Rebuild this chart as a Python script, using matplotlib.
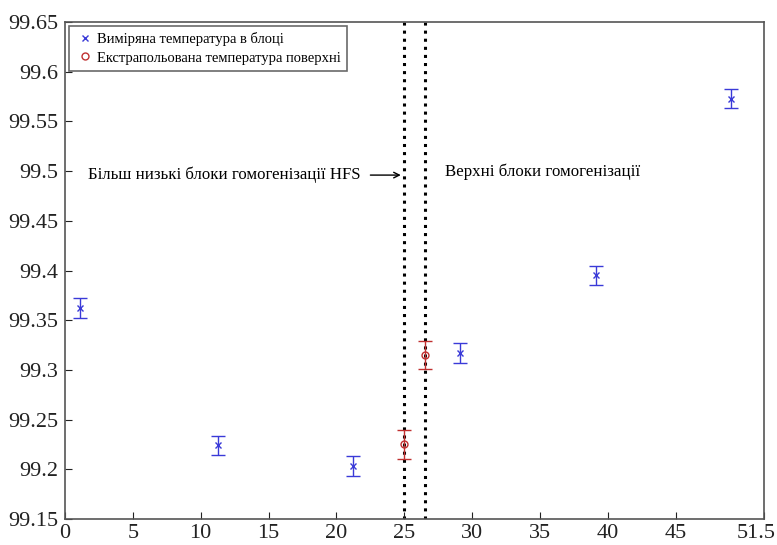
import matplotlib
matplotlib.use("Agg")
import matplotlib.pyplot as plt
from matplotlib.lines import Line2D
from matplotlib.transforms import ScaledTranslation

# Data
meas_x = [1.1, 11.3, 21.2, 29.1, 39.1, 49.1]
meas_y = [99.362, 99.224, 99.203, 99.317, 99.395, 99.573]
meas_err = [0.010, 0.010, 0.010, 0.010, 0.010, 0.010]

extr_x = [25.0, 26.5]
extr_y = [99.225, 99.315]
extr_err = [0.015, 0.014]

boundaries = [25.0, 26.5]
xticks = [0, 5, 10, 15, 20, 25, 30, 35, 40, 45, 51.5]
xtick_labels = ["0", "5", "10", "15", "20", "25", "30", "35", "40", "45", "51.5"]
yticks = [99.15, 99.2, 99.25, 99.3, 99.35, 99.4, 99.45, 99.5, 99.55, 99.6, 99.65]
ytick_labels = ["99.15", "99.2", "99.25", "99.3", "99.35", "99.4", "99.45", "99.5", "99.55", "99.6", "99.65"]

legend_labels = ["Виміряна температура в блоці", "Екстрапольована температура поверхні"]
text_lower = "Більш низькі блоки гомогенізації HFS"
text_upper = "Верхні блоки гомогенізації"

plt.rcParams['font.family'] = ['Liberation Serif', 'DejaVu Serif']

fig = plt.figure(figsize=(7.77, 5.45), dpi=100)
ax = fig.add_axes([0.0837, 0.0477, 0.8993, 0.9119])

blue = '#3a3ad8'
red = '#c03030'

for b in boundaries:
    ax.axvline(b, color='black', linestyle=':', linewidth=2.2, zorder=1)

ax.errorbar(meas_x, meas_y, yerr=meas_err, fmt='x', color=blue, ecolor=blue,
            markersize=4, capsize=5, elinewidth=1, capthick=1, zorder=3)
ax.errorbar(extr_x, extr_y, yerr=extr_err, fmt='o', color=red, ecolor=red,
            markerfacecolor='none', markersize=5, capsize=5, elinewidth=1, capthick=1,
            zorder=3)

ax.set_xlim(0, 51.5)
ax.set_ylim(99.15, 99.65)
ax.set_xticks(xticks)
ax.set_xticklabels(xtick_labels)
ax.set_yticks(yticks)
ax.set_yticklabels(ytick_labels)
ax.tick_params(direction='in', labelsize=16, length=5, colors='#222222')
ax.tick_params(axis='y', pad=5)
for s in ax.spines.values():
    s.set_color('#555555')
    s.set_linewidth(1.2)

lbl = ax.get_xticklabels()[-1]
lbl.set_transform(lbl.get_transform() + ScaledTranslation(-8 / 100, 0, fig.dpi_scale_trans))

ax.text(1.7, 99.496, text_lower, fontsize=12.1, va='center', ha='left')
ax.annotate('', xy=(24.95, 99.496), xytext=(22.3, 99.496),
            arrowprops=dict(arrowstyle='->', color='black', lw=1))
ax.text(28.0, 99.499, text_upper, fontsize=12.2, va='center', ha='left')

handles = [Line2D([], [], linestyle='none', marker='x', color=blue, markersize=4),
           Line2D([], [], linestyle='none', marker='o', color=red, markerfacecolor='none', markersize=5)]
leg = ax.legend(handles, legend_labels, loc='upper left', fontsize=10.5, frameon=True, fancybox=False,
                edgecolor='#444444', borderaxespad=0.25, handlelength=1.4,
                handletextpad=0.1, borderpad=0.45, labelspacing=0.35, numpoints=1)
leg.get_frame().set_linewidth(1.2)

fig.savefig('out.png', dpi=100)
